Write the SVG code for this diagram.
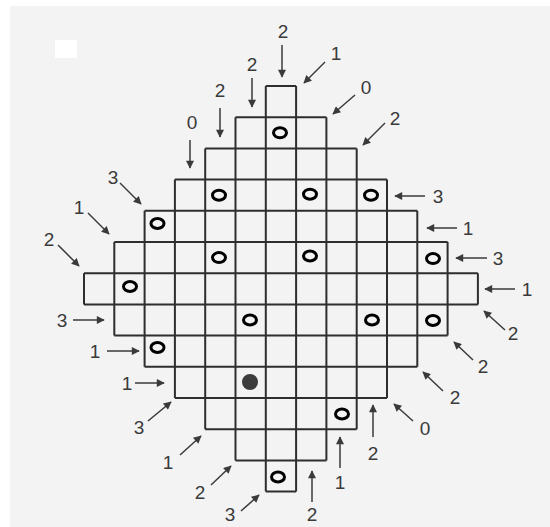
<svg xmlns="http://www.w3.org/2000/svg" width="550" height="527" viewBox="0 0 550 527">
<defs>
<style>
.grid{fill:none;stroke:#2e2e2e;stroke-width:2}
.ring{fill:none;stroke:#000;stroke-width:3}
.dot{fill:#3c3c3c}
.lbl{font-family:"Liberation Sans",Arial,sans-serif;font-size:19px;fill:#3a3a3a;text-anchor:middle}
.arr{stroke:#3a3a3a;stroke-width:1.5;fill:none;marker-end:url(#ah)}
</style>
<marker id="ah" viewBox="0 0 10 10" refX="9" refY="5" markerWidth="10" markerHeight="8" markerUnits="userSpaceOnUse" orient="auto">
<path d="M0,0 L10,5 L0,10 Z" fill="#3a3a3a"/>
</marker>
</defs>
<rect x="0" y="0" width="550" height="527" fill="#ffffff"/>
<rect x="10" y="6" width="540" height="521" fill="#f3f3f3"/>
<rect x="55" y="40" width="22" height="18" fill="#ffffff"/>
<g id="grid">
<path class="grid" d="M265.8,86H296.1 M235.5,117.2H326.4 M205.2,148.4H356.7 M174.9,179.6H387 M144.6,210.8H417.3 M114.3,242H447.6 M84,273.2H477.9 M84,304.4H477.9 M114.3,335.6H447.6 M144.6,366.8H417.3 M174.9,398H387 M205.2,429.2H356.7 M235.5,460.4H326.4 M265.8,491.6H296.1 M84,273.2V304.4 M114.3,242V335.6 M144.6,210.8V366.8 M174.9,179.6V398 M205.2,148.4V429.2 M235.5,117.2V460.4 M265.8,86V491.6 M296.1,86V491.6 M326.4,117.2V460.4 M356.7,148.4V429.2 M387,179.6V398 M417.3,210.8V366.8 M447.6,242V335.6 M477.9,273.2V304.4"/>
</g>
<g id="circles">
<ellipse class="ring" cx="280" cy="132.8" rx="6.5" ry="5"/>
<ellipse class="ring" cx="219" cy="195.2" rx="6.5" ry="5"/>
<ellipse class="ring" cx="310" cy="194.2" rx="6.5" ry="5"/>
<ellipse class="ring" cx="371" cy="195.2" rx="6.5" ry="5"/>
<ellipse class="ring" cx="157.5" cy="223.5" rx="6.5" ry="5"/>
<ellipse class="ring" cx="219" cy="257.6" rx="6.5" ry="5"/>
<ellipse class="ring" cx="310" cy="256" rx="6.5" ry="5"/>
<ellipse class="ring" cx="433" cy="258.6" rx="6.5" ry="5"/>
<ellipse class="ring" cx="130" cy="286.5" rx="6.5" ry="5"/>
<ellipse class="ring" cx="250" cy="320" rx="6.5" ry="5"/>
<ellipse class="ring" cx="372" cy="320" rx="6.5" ry="5"/>
<ellipse class="ring" cx="433" cy="320.5" rx="6.5" ry="5"/>
<ellipse class="ring" cx="157.5" cy="347.5" rx="6.5" ry="5"/>
<circle class="dot" cx="250" cy="382" r="8"/>
<ellipse class="ring" cx="342" cy="414" rx="6.5" ry="5"/>
<ellipse class="ring" cx="278" cy="477" rx="6.5" ry="5"/>
</g>
<g id="connectors">
<line class="arr" x1="282" y1="45" x2="282" y2="77"/>
<line class="arr" x1="252" y1="78" x2="252" y2="107"/>
<line class="arr" x1="220" y1="108" x2="220" y2="137"/>
<line class="arr" x1="190" y1="140" x2="190" y2="168"/>
<line class="arr" x1="325" y1="62" x2="304" y2="83"/>
<line class="arr" x1="355" y1="95" x2="333" y2="114"/>
<line class="arr" x1="385" y1="123" x2="363" y2="145"/>
<line class="arr" x1="120" y1="183" x2="141" y2="204"/>
<line class="arr" x1="88" y1="213" x2="109" y2="234"/>
<line class="arr" x1="58" y1="245" x2="79" y2="266"/>
<line class="arr" x1="73" y1="320" x2="104" y2="320"/>
<line class="arr" x1="107" y1="351" x2="139" y2="351"/>
<line class="arr" x1="135" y1="383" x2="164" y2="383"/>
<line class="arr" x1="425" y1="196" x2="395" y2="196"/>
<line class="arr" x1="457" y1="228" x2="427" y2="228"/>
<line class="arr" x1="487" y1="258" x2="456" y2="258"/>
<line class="arr" x1="515" y1="289" x2="485" y2="289"/>
<line class="arr" x1="505" y1="330" x2="484" y2="311"/>
<line class="arr" x1="473" y1="360" x2="454" y2="342"/>
<line class="arr" x1="443" y1="391" x2="423" y2="372"/>
<line class="arr" x1="413" y1="421" x2="394" y2="404"/>
<line class="arr" x1="373" y1="437" x2="373" y2="405"/>
<line class="arr" x1="340" y1="468" x2="340" y2="437"/>
<line class="arr" x1="312" y1="502" x2="312" y2="471"/>
<line class="arr" x1="148" y1="421" x2="171" y2="402"/>
<line class="arr" x1="180" y1="455" x2="201" y2="436"/>
<line class="arr" x1="211" y1="485" x2="231" y2="466"/>
<line class="arr" x1="241" y1="511" x2="259" y2="495"/>
</g>
<g id="labels">
<text class="lbl" x="283" y="38">2</text>
<text class="lbl" x="252" y="71">2</text>
<text class="lbl" x="220" y="97">2</text>
<text class="lbl" x="192" y="129">0</text>
<text class="lbl" x="336" y="60">1</text>
<text class="lbl" x="366" y="94">0</text>
<text class="lbl" x="395" y="125">2</text>
<text class="lbl" x="113" y="184">3</text>
<text class="lbl" x="79" y="214">1</text>
<text class="lbl" x="49" y="246">2</text>
<text class="lbl" x="62" y="327">3</text>
<text class="lbl" x="95" y="358">1</text>
<text class="lbl" x="127" y="390">1</text>
<text class="lbl" x="438" y="203">3</text>
<text class="lbl" x="468" y="235">1</text>
<text class="lbl" x="498" y="265">3</text>
<text class="lbl" x="527" y="296">1</text>
<text class="lbl" x="513" y="340">2</text>
<text class="lbl" x="483" y="373">2</text>
<text class="lbl" x="455" y="404">2</text>
<text class="lbl" x="425" y="435">0</text>
<text class="lbl" x="373" y="460">2</text>
<text class="lbl" x="340" y="489">1</text>
<text class="lbl" x="312" y="521">2</text>
<text class="lbl" x="139" y="434">3</text>
<text class="lbl" x="168" y="469">1</text>
<text class="lbl" x="200" y="499">2</text>
<text class="lbl" x="230" y="521">3</text>
</g>
</svg>
